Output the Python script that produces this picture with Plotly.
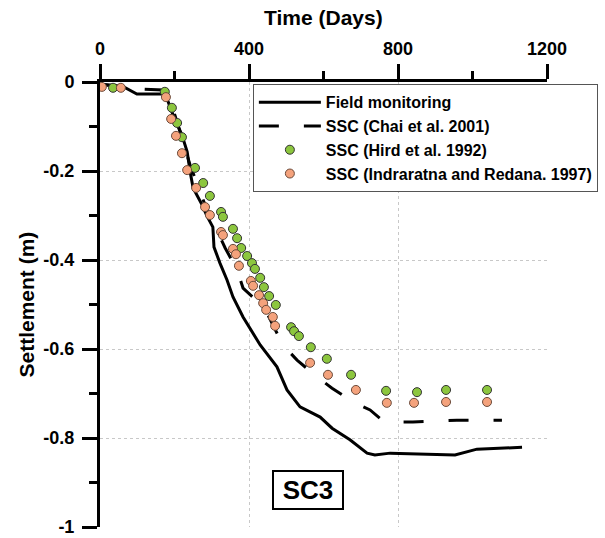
import plotly.graph_objects as go

# Field monitoring
field_t = [0, 59, 99, 169, 177, 193, 220, 234, 242, 250, 274, 287, 303, 306, 322, 341, 357, 384,
           430, 475, 502, 537, 591, 623, 671, 717, 738, 779, 953, 1012, 1133]
field_s = [-0.005, -0.009, -0.027, -0.027, -0.031, -0.067, -0.119, -0.157, -0.202, -0.238, -0.276,
           -0.301, -0.326, -0.371, -0.407, -0.445, -0.483, -0.528, -0.591, -0.640, -0.692, -0.730,
           -0.753, -0.778, -0.804, -0.834, -0.838, -0.834, -0.838, -0.825, -0.821]

# SSC (Chai et al. 2001)
chai_t = [0, 55, 107, 169, 201, 242, 282, 322, 336, 368, 384, 424, 448, 491, 529, 583, 623,
          679, 725, 760, 784, 840, 905, 958, 1023, 1079]
chai_s = [-0.005, -0.010, -0.016, -0.018, -0.074, -0.187, -0.276, -0.348, -0.373, -0.422,
          -0.463, -0.494, -0.519, -0.591, -0.625, -0.663, -0.688, -0.719, -0.737, -0.762, -0.764,
          -0.764, -0.762, -0.760, -0.760, -0.760]

# SSC (Hird et al. 1992)
hird_t = [35, 174, 193, 207, 220, 255, 277, 295, 325, 330, 357, 368, 379, 395, 408, 416, 430, 440,
          454, 472, 513, 521, 534, 566, 609, 674, 768, 851, 929, 1039]
hird_s = [-0.013, -0.022, -0.058, -0.092, -0.124, -0.193, -0.227, -0.256, -0.292, -0.303, -0.330,
          -0.351, -0.373, -0.391, -0.407, -0.420, -0.440, -0.461, -0.481, -0.501, -0.551, -0.560,
          -0.571, -0.596, -0.622, -0.658, -0.694, -0.697, -0.692, -0.692]

# SSC (Indraratna and Redana. 1997)
ind_t = [5, 56, 177, 191, 204, 220, 234, 258, 282, 295, 325, 330, 357, 365, 373, 405, 411, 427,
         438, 446, 464, 470, 564, 612, 687, 770, 843, 929, 1039]
ind_s = [-0.011, -0.013, -0.034, -0.083, -0.121, -0.160, -0.198, -0.238, -0.281, -0.299, -0.337,
         -0.344, -0.375, -0.387, -0.413, -0.447, -0.458, -0.479, -0.497, -0.512, -0.528, -0.548,
         -0.631, -0.658, -0.692, -0.721, -0.721, -0.719, -0.719]

x_ticks = [0, 400, 800, 1200]
x_minor = [200, 600, 1000]
y_ticks = [0, -0.2, -0.4, -0.6, -0.8, -1]
y_tick_text = ["0", "-0.2", "-0.4", "-0.6", "-0.8", "-1"]
y_minor = [-0.1, -0.3, -0.5, -0.7, -0.9]

FONT = "Arial, Liberation Sans, sans-serif"

fig = go.Figure()
fig.add_trace(go.Scatter(x=field_t, y=field_s, mode="lines", name="<b>Field monitoring</b>",
                         line=dict(color="black", width=3)))
fig.add_trace(go.Scatter(x=chai_t, y=chai_s, mode="lines", name="<b>SSC (Chai et al. 2001)</b>",
                         line=dict(color="black", width=3, dash="20px,25px")))
fig.add_trace(go.Scatter(x=hird_t, y=hird_s, mode="markers", name="<b>SSC (Hird et al. 1992)</b>",
                         marker=dict(size=9, color="#8cc63e", line=dict(color="#333333", width=1))))
fig.add_trace(go.Scatter(x=ind_t, y=ind_s, mode="markers",
                         name="<b>SSC (Indraratna and Redana. 1997)</b>",
                         marker=dict(size=9, color="#f4a27c", line=dict(color="#6b4a3a", width=1))))

fig.add_annotation(x=558, y=-0.917, xref="x", yref="y", text="<b>SC3</b>", showarrow=False,
                   font=dict(family=FONT, size=26, color="black"),
                   width=64, height=32,
                   bordercolor="black", borderwidth=2, borderpad=2, bgcolor="white")

# axis titles
fig.add_annotation(x=0.5, y=1.146, xref="paper", yref="paper", text="<b>Time (Days)</b>",
                   showarrow=False, xanchor="center", yanchor="middle",
                   font=dict(family=FONT, size=21, color="black"))
fig.add_annotation(x=-0.1655, y=0.5, xref="paper", yref="paper", text="<b>Settlement (m)</b>",
                   showarrow=False, xanchor="center", yanchor="middle", textangle=-90,
                   font=dict(family=FONT, size=21, color="black"))

fig.update_layout(
    width=605, height=538,
    margin=dict(l=100, r=58, t=82, b=11, autoexpand=False),
    paper_bgcolor="white", plot_bgcolor="white",
    font=dict(family=FONT, color="black"),
    showlegend=True,
    legend=dict(x=0.342, y=0.995, xanchor="left", yanchor="top",
                bgcolor="white", bordercolor="#555555", borderwidth=1,
                font=dict(family=FONT, size=16, color="black"),
                itemwidth=62, tracegroupgap=0),
    xaxis=dict(side="top", range=[0, 1200], tickvals=x_ticks,
               ticktext=["<b>%d</b>" % v for v in x_ticks],
               tickfont=dict(size=18), ticks="outside", ticklen=15, tickwidth=3, tickcolor="black",
               ticklabelstandoff=2,
               minor=dict(tickvals=x_minor, ticks="outside", ticklen=8, tickwidth=3,
                          tickcolor="black", showgrid=False),
               showline=True, linewidth=3, linecolor="black",
               showgrid=True, gridcolor="#c8c8c8", gridwidth=1, griddash="dot",
               zeroline=False, automargin=False),
    yaxis=dict(range=[-1, 0], tickvals=y_ticks,
               ticktext=["<b>%s</b>" % t for t in y_tick_text],
               tickfont=dict(size=18), ticks="outside", ticklen=15, tickwidth=3, tickcolor="black",
               ticklabelstandoff=4,
               minor=dict(tickvals=y_minor, ticks="outside", ticklen=8,
                          tickwidth=3, tickcolor="black", showgrid=False),
               showline=True, linewidth=3, linecolor="black",
               showgrid=True, gridcolor="#c8c8c8", gridwidth=1, griddash="dot",
               zeroline=False, automargin=False),
)

fig.write_html("out.html", config={"displayModeBar": False},
               post_script="document.body.style.margin='0px';")
